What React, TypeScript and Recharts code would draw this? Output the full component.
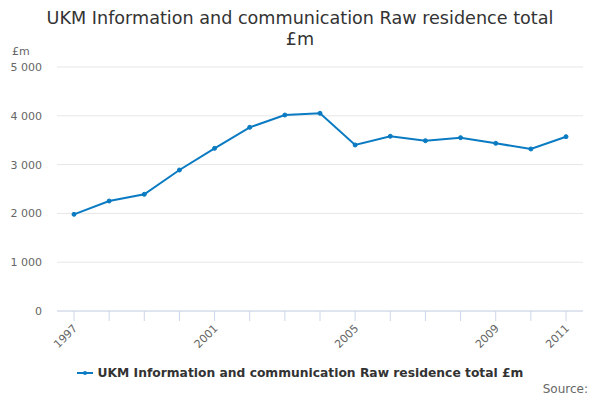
import React from 'react';
import { LineChart, Line, XAxis, YAxis, CartesianGrid } from 'recharts';

const years = ['1997','1998','1999','2000','2001','2002','2003','2004','2005','2006','2007','2008','2009','2010','2011'];
const values = [1981, 2254, 2391, 2889, 3333, 3764, 4016, 4051, 3402, 3580, 3490, 3552, 3436, 3320, 3572];
const labeledYears = ['1997', '2001', '2005', '2009', '2011'];
const yTicks = [0, 1000, 2000, 3000, 4000, 5000];

const data = years.map((y, i) => ({ year: y, value: values[i] }));

const FONT = '"DejaVu Sans", sans-serif';
const LINE = '#0a7bc2';

const fmt = (v: number) => (v === 0 ? '0' : `${Math.floor(v / 1000)} ${String(v % 1000).padStart(3, '0')}`);

const XTick = (props: any) => {
  const { x, y, payload } = props;
  if (!labeledYears.includes(payload.value)) return null;
  const tx = x + 4;
  const ty = y + 6;
  return (
    <text x={tx} y={ty} transform={`rotate(-45, ${tx}, ${ty})`} textAnchor="end" fontSize={11} fill="#666" fontFamily={FONT}>
      {payload.value}
    </text>
  );
};

export default function App() {
  return (
    <div style={{ position: 'absolute', left: 0, top: 0, width: 600, height: 400, fontFamily: FONT, background: '#fff' }}>
      <div style={{ position: 'absolute', left: 0, top: 8, width: 600, textAlign: 'center', fontSize: 17.6, lineHeight: '21px', color: '#333' }}>
        UKM Information and communication Raw residence total
        <br />
        £m
      </div>
      <div style={{ position: 'absolute', left: 12, top: 45, fontSize: 11, color: '#666' }}>£m</div>
      <LineChart width={600} height={400} data={data} margin={{ top: 67, right: 17, bottom: 0, left: 0 }}>
        <CartesianGrid vertical={false} stroke="#e6e6e6" />
        <XAxis
          dataKey="year"
          interval={0}
          padding={{ left: 17, right: 17 }}
          stroke="#ccd6eb"
          tickSize={10}
          tick={<XTick />}
          height={89}
        />
        <YAxis
          width={57}
          domain={[0, 5000]}
          ticks={yTicks}
          tickFormatter={fmt}
          axisLine={false}
          tickLine={false}
          tickSize={0}
          tickMargin={15}
          tick={{ fontSize: 11, fill: '#666', fontFamily: FONT }}
        />
        <Line
          type="linear"
          dataKey="value"
          stroke={LINE}
          strokeWidth={2}
          dot={{ r: 2, fill: LINE, stroke: LINE, strokeWidth: 1 }}
          isAnimationActive={false}
        />
      </LineChart>
      <div style={{ position: 'absolute', left: 0, top: 366, width: 600, display: 'flex', justifyContent: 'center', alignItems: 'center' }}>
        <svg width={16} height={10} style={{ marginRight: 5 }}>
          <line x1={0} y1={5} x2={16} y2={5} stroke={LINE} strokeWidth={2} />
          <circle cx={8} cy={5} r={2} fill={LINE} />
        </svg>
        <span style={{ fontSize: 12.3, fontWeight: 'bold', color: '#333' }}>UKM Information and communication Raw residence total £m</span>
      </div>
      <div style={{ position: 'absolute', right: 12, top: 382, fontSize: 12, color: '#666' }}>Source:</div>
    </div>
  );
}
